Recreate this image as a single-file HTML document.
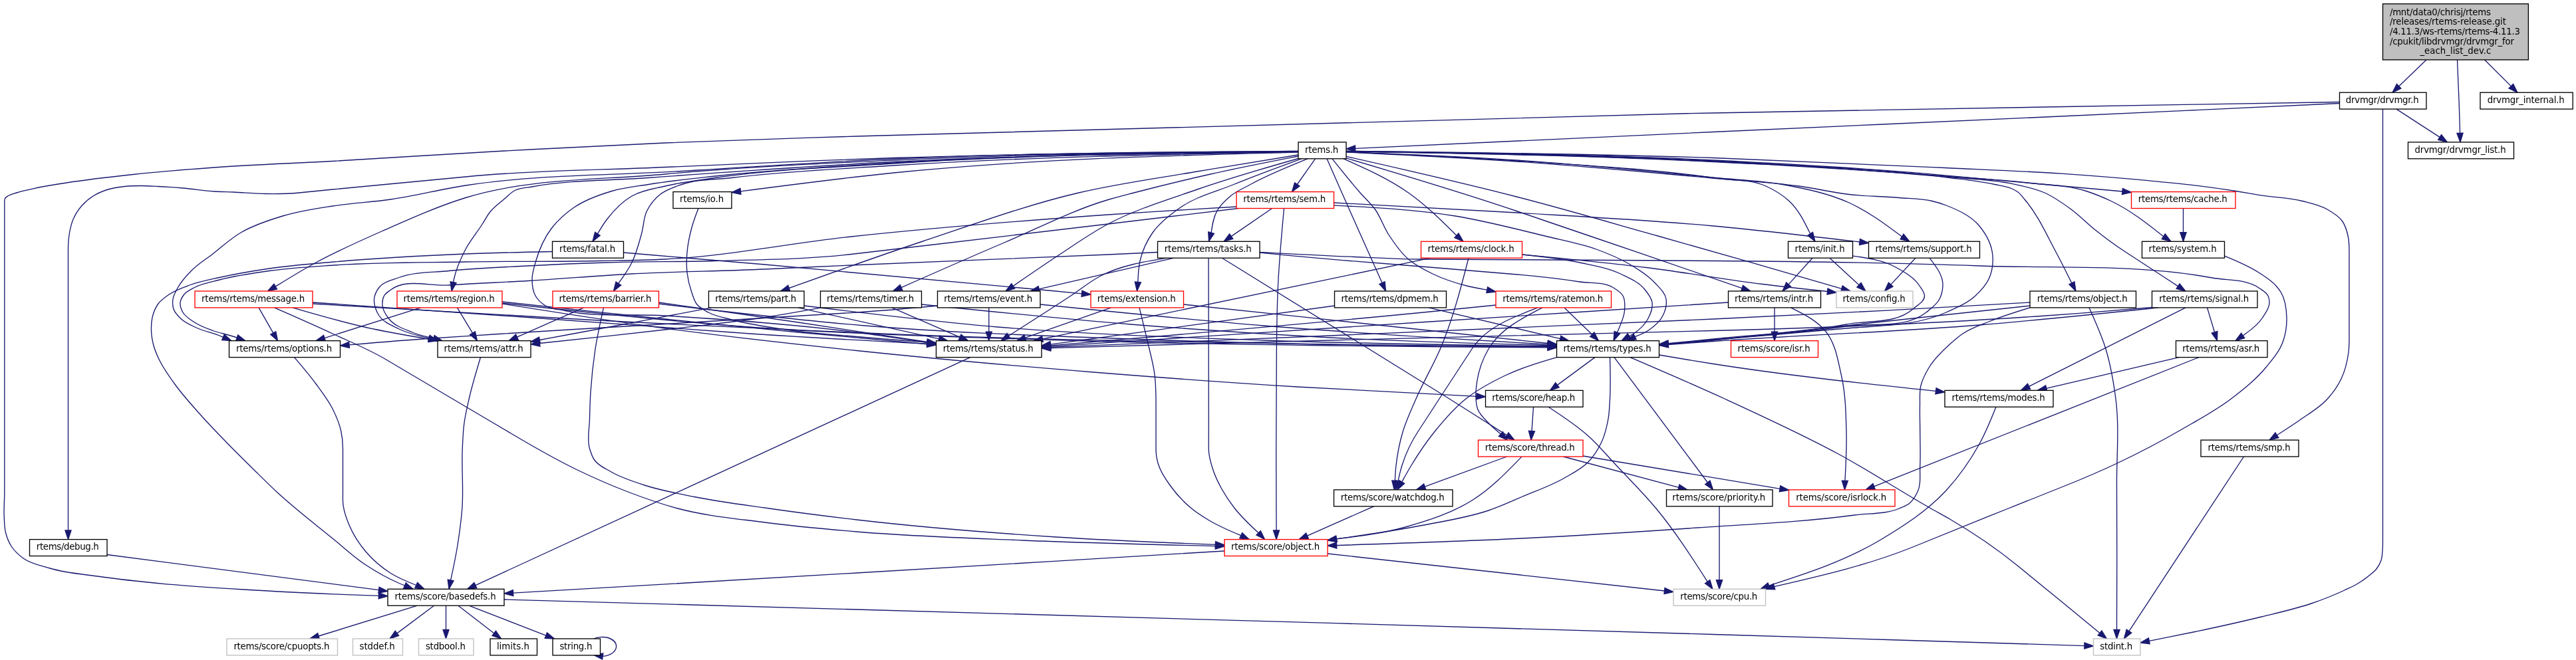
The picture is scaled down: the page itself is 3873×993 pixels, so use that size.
<!DOCTYPE html>
<html><head><meta charset="utf-8"><title>Include dependency graph</title>
<style>html,body{margin:0;padding:0;background:#fff}svg{display:block}text{font-family:"DejaVu Sans","Liberation Sans",sans-serif;font-size:13.33px;fill:#000}</style></head><body>
<svg width="3873" height="993" viewBox="0 0 3873 993">
<rect x="0" y="0" width="3873" height="993" fill="#ffffff"/>
<g fill="none" stroke="#191970" stroke-width="1.33">
<path d="M3648.0,90.0L3606.8,129.7"/>
<path d="M3694.5,90.0C3695.4,110.0 3696.3,130.0 3697.0,150.0C3697.6,166.8 3698.1,183.5 3698.6,200.3"/>
<path d="M3735.6,90.0L3775.4,129.6"/>
<path d="M3517.5,155.5C3370.3,162.4 3223.2,169.3 3076.0,176.0C2909.3,183.6 2742.7,190.9 2576.0,198.5C2396.5,206.7 2217.1,215.0 2037.6,223.4"/>
<path d="M3517.5,153.5C3370.3,156.0 3223.2,158.4 3076.0,161.0C2909.3,163.9 2742.7,167.0 2576.0,170.0C2146.6,177.7 1717.3,190.7 1288.0,205.0C1192.0,208.2 1096.0,210.9 1000.0,215.0C916.6,218.6 833.3,222.9 750.0,227.5C666.6,232.1 583.4,237.8 500.0,242.5C440.7,245.8 381.3,247.7 322.0,252.0C281.3,255.0 240.6,258.1 200.0,262.5C166.6,266.1 133.2,269.8 100.0,275.0C83.3,277.6 66.5,280.0 50.0,283.8C41.6,285.6 33.2,287.4 25.0,290.0C20.8,291.4 16.2,292.0 12.5,294.5C10.7,295.7 8.4,296.8 7.5,298.8C6.9,300.0 6.8,301.6 6.8,303.0C6.8,315.3 6.8,327.7 6.8,340.0C6.8,426.7 6.8,513.3 6.8,600.0C6.8,646.7 6.8,693.3 6.8,740.0C6.8,752.5 5.6,765.0 6.2,777.5C6.7,785.9 6.5,794.4 8.8,802.5C10.7,809.5 13.5,816.4 17.5,822.5C22.1,829.4 28.3,835.1 35.0,840.0C46.5,848.4 61.4,850.9 75.0,855.0C99.3,862.2 124.9,863.9 150.0,867.5C183.2,872.3 216.6,875.6 250.0,878.8C291.6,882.6 333.3,885.0 375.0,887.5C416.6,890.0 458.3,892.0 500.0,893.8C523.1,894.7 546.3,895.5 569.4,896.3"/>
<path d="M3603.0,164.1L3668.1,206.4"/>
<path d="M3582.5,164.1C3582.5,276.0 3582.5,388.0 3582.5,500.0C3582.5,593.3 3582.5,686.7 3582.5,780.0C3582.5,791.7 3582.5,803.3 3582.5,815.0C3582.5,820.0 3582.5,825.0 3582.0,830.0C3581.6,834.4 3581.4,838.8 3580.0,843.0C3578.5,847.7 3576.0,852.1 3573.0,856.0C3570.1,859.7 3566.1,862.5 3562.5,865.5C3557.0,870.1 3551.1,874.3 3545.0,878.0C3538.6,881.9 3531.7,884.8 3525.0,888.0C3508.8,895.6 3492.0,902.2 3475.0,908.0C3450.5,916.4 3425.1,921.8 3400.0,928.0C3366.8,936.2 3333.4,943.5 3300.0,950.5C3277.2,955.3 3254.2,959.8 3231.3,964.3"/>
<path d="M1952.0,227.3C1749.3,229.2 1546.6,231.0 1344.0,237.5C1229.3,241.2 1114.6,246.4 1000.0,251.5C900.0,256.0 799.7,256.5 700.0,266.0C633.3,272.3 566.6,278.4 500.0,285.0C483.3,286.7 466.7,288.3 450.0,290.0C433.4,291.7 416.7,291.7 400.0,291.5C383.3,291.3 366.7,289.7 350.0,289.0C340.7,288.6 331.3,288.6 322.0,288.0C306.3,287.0 290.7,284.3 275.0,283.0C262.5,281.9 250.0,281.1 237.5,280.5C229.2,280.1 220.8,279.5 212.5,279.5C204.2,279.5 195.8,279.6 187.5,280.5C179.1,281.4 170.6,282.5 162.5,285.0C154.7,287.4 146.9,290.6 140.0,295.0C133.5,299.1 127.5,304.2 122.5,310.0C117.4,316.0 113.1,322.8 110.0,330.0C107.3,336.4 105.8,343.2 104.5,350.0C103.2,357.2 102.5,364.6 102.5,372.0C102.5,381.3 102.5,390.7 102.5,400.0C102.5,466.7 102.5,533.3 102.5,600.0C102.5,666.0 102.5,732.0 102.5,798.0"/>
<path d="M1952.0,227.5C1749.3,228.7 1546.5,230.0 1344.0,239.0C1237.6,243.7 1131.3,250.9 1025.0,257.5C916.6,264.2 807.3,262.4 700.0,279.0C662.3,284.8 625.2,294.5 587.5,300.0C558.4,304.2 529.0,305.4 500.0,310.0C474.8,314.0 449.4,317.6 425.0,325.0C403.4,331.5 381.5,338.5 362.0,350.0C346.8,358.9 333.9,371.2 320.0,382.0C309.1,390.4 297.1,397.7 287.5,407.5C280.0,415.1 272.7,423.2 267.5,432.5C264.4,438.1 260.9,443.7 260.0,450.0C259.3,455.0 259.4,460.3 261.0,465.0C263.0,471.0 267.9,475.7 272.5,480.0C279.5,486.6 288.8,490.0 297.5,494.0C307.9,498.7 319.4,500.6 330.0,505.0C331.8,505.8 333.7,506.6 335.5,507.4"/>
<path d="M1952.0,227.7C1749.2,229.6 1546.5,231.5 1344.0,241.0C1229.2,246.4 1114.4,251.5 1000.0,262.0C899.7,271.2 796.2,267.8 700.0,297.5C657.1,310.8 616.1,329.4 575.0,347.5C541.2,362.4 507.4,377.3 475.0,395.0C454.3,406.3 434.3,418.7 414.2,431.1"/>
<path d="M1952.0,227.9C1749.2,230.6 1546.5,233.3 1344.0,243.5C1220.9,249.7 1097.9,258.5 975.0,267.5C916.6,271.8 857.5,270.4 800.0,281.0C791.6,282.5 782.6,282.3 775.0,286.0C768.3,289.3 763.2,295.2 757.5,300.0C750.6,305.8 743.2,311.1 737.5,318.0C732.6,323.9 729.2,331.0 725.0,337.5C716.8,350.1 707.0,361.7 700.0,375.0C692.5,389.3 685.8,404.3 682.5,420.0C682.2,421.5 681.9,423.1 681.6,424.7"/>
<path d="M1952.0,228.1C1749.2,230.5 1546.4,232.9 1344.0,245.0C1254.2,250.4 1164.4,255.1 1075.0,265.0C1041.6,268.7 1008.2,272.1 975.0,277.5C956.6,280.5 937.9,282.2 920.0,287.5C900.0,293.4 879.7,300.6 862.5,312.5C850.4,320.9 839.1,330.9 830.0,342.5C818.1,357.8 810.2,376.3 805.0,395.0C802.7,403.2 800.0,411.5 800.0,420.0C800.0,428.5 800.8,437.6 805.0,445.0C808.5,451.1 814.0,456.2 820.0,460.0C828.7,465.5 839.9,465.3 850.0,467.5C898.9,478.0 950.0,471.9 1000.0,475.0C1096.2,481.0 1192.4,487.6 1288.0,500.0C1323.4,504.6 1358.7,510.1 1394.0,515.5"/>
<path d="M1952.0,228.3C1749.2,230.6 1546.3,233.0 1344.0,246.0C1254.2,251.8 1164.0,254.4 1075.0,267.5C1049.9,271.2 1024.6,274.0 1000.0,280.0C983.1,284.1 965.1,286.3 950.0,295.0C935.2,303.5 922.9,316.5 912.5,330.0C907.2,336.9 902.8,344.4 898.4,351.9"/>
<path d="M1952.0,228.5C1749.2,232.3 1546.4,236.1 1344.0,249.0C1262.6,254.2 1181.0,257.8 1100.0,267.5C1075.0,270.5 1048.8,269.2 1025.0,277.5C1013.7,281.4 1001.8,285.0 992.5,292.5C984.2,299.2 977.2,307.9 972.5,317.5C967.6,327.5 967.9,339.3 965.0,350.0C960.8,365.3 957.0,380.8 950.0,395.0C944.5,406.2 937.1,416.4 929.8,426.5"/>
<path d="M1952.0,229.0C1748.9,234.3 1545.9,239.5 1344.0,260.0C1267.0,267.8 1190.3,277.8 1113.5,287.9"/>
<path d="M1952.0,233.0C1901.3,241.2 1850.6,249.3 1800.0,258.0C1740.6,268.2 1680.7,276.2 1622.0,290.0C1542.3,308.7 1465.2,337.2 1387.5,363.0C1320.1,385.4 1253.2,409.5 1186.3,433.5"/>
<path d="M1952.0,235.0C1907.9,243.6 1863.8,252.1 1820.0,262.0C1781.5,270.7 1743.2,280.0 1705.0,290.0C1692.0,293.4 1678.9,296.7 1666.0,300.5C1612.0,316.5 1561.8,343.0 1510.0,365.0C1458.1,387.0 1406.6,409.8 1355.1,432.6"/>
<path d="M1952.0,238.5C1901.0,253.0 1850.0,267.6 1800.0,285.0C1754.8,300.8 1708.3,314.5 1666.0,337.0C1639.5,351.1 1615.0,368.6 1590.0,385.0C1567.5,399.8 1545.4,415.1 1523.2,430.4"/>
<path d="M1956.7,238.8C1922.6,251.3 1888.6,263.8 1855.0,277.5C1828.1,288.5 1798.9,295.4 1775.0,312.0C1759.5,322.8 1743.8,334.5 1733.0,350.0C1724.1,362.7 1717.5,377.4 1714.0,392.5C1711.6,402.9 1711.2,413.7 1710.8,424.5"/>
<path d="M1966.0,238.8C1936.8,250.6 1907.6,262.4 1880.0,277.5C1869.8,283.0 1858.9,287.6 1850.0,295.0C1842.4,301.3 1834.9,308.4 1830.0,317.0C1824.3,326.9 1822.7,338.6 1821.0,350.2"/>
<path d="M1977.5,238.8L1950.3,277.5"/>
<path d="M1995.0,238.8C2002.5,255.8 2010.0,272.9 2017.5,290.0C2037.5,335.3 2057.7,380.4 2078.0,425.6"/>
<path d="M2003.0,238.8C2016.7,256.1 2030.5,273.4 2045.0,290.0C2052.4,298.4 2060.9,305.9 2067.5,315.0C2075.8,326.5 2079.8,340.6 2087.5,352.5C2096.2,365.9 2105.4,379.6 2117.5,390.0C2128.6,399.5 2141.9,406.2 2155.0,412.5C2170.9,420.2 2187.9,425.6 2205.0,430.0C2215.1,432.6 2225.4,434.4 2235.7,436.3"/>
<path d="M2020.0,238.8C2053.7,253.8 2087.5,268.9 2117.5,290.0C2143.9,308.6 2166.9,331.4 2189.8,354.3"/>
<path d="M2024.0,235.3C2109.6,254.7 2195.1,274.0 2280.0,296.0C2351.2,314.4 2421.7,335.1 2492.5,355.0C2584.8,381.0 2676.8,407.6 2768.9,434.3"/>
<path d="M2024.0,237.9C2109.7,263.3 2195.4,288.7 2280.0,317.5C2316.7,330.0 2353.3,342.5 2390.0,355.0C2466.4,381.1 2542.8,407.3 2619.1,433.6"/>
<path d="M2024.0,227.4C2208.1,229.6 2392.2,231.9 2576.0,241.0C2692.1,246.8 2808.2,253.1 2924.0,263.8C2974.0,268.3 3024.0,273.0 3074.0,277.5C3113.0,281.0 3152.0,284.5 3191.0,288.0"/>
<path d="M2024.0,227.6C2208.1,230.2 2392.2,232.7 2576.0,242.0C2692.1,247.9 2808.1,256.2 2924.0,265.0C2965.7,268.2 3007.5,270.2 3049.0,275.0C3078.3,278.4 3108.4,278.6 3136.5,287.5C3149.3,291.6 3161.8,296.7 3174.0,302.5C3202.6,316.1 3227.7,335.9 3252.7,355.7"/>
<path d="M2024.0,227.8C2208.1,230.7 2392.2,233.5 2576.0,243.0C2692.1,249.0 2808.2,255.5 2924.0,266.2C2957.4,269.3 2991.2,269.2 3024.0,276.2C3040.9,279.9 3058.2,282.9 3074.0,290.0C3088.4,296.4 3101.3,305.7 3114.0,315.0C3126.4,324.1 3137.0,335.4 3149.0,345.0C3163.5,356.6 3178.4,367.8 3194.0,378.0C3209.3,388.0 3224.7,398.0 3240.0,408.0C3251.5,415.5 3263.1,423.1 3274.6,430.6"/>
<path d="M2024.0,228.0C2208.1,231.0 2392.2,234.1 2576.0,243.5C2692.1,249.5 2808.7,251.3 2924.0,266.5C2949.0,269.8 2974.3,272.0 2999.0,277.5C3007.7,279.4 3016.9,280.2 3025.0,284.0C3028.1,285.4 3031.2,286.9 3034.0,289.0C3038.0,292.0 3040.8,296.2 3044.0,300.0C3064.2,323.5 3076.8,352.7 3091.5,380.0C3099.6,395.1 3107.2,410.5 3114.8,425.9"/>
<path d="M2024.0,227.2C2208.0,229.3 2392.1,231.3 2576.0,237.5C2692.0,241.4 2808.0,247.0 2924.0,252.5C2982.3,255.3 3040.7,257.3 3099.0,261.2C3140.7,264.1 3182.4,267.4 3224.0,271.2C3249.0,273.6 3274.1,275.7 3299.0,278.8C3319.9,281.3 3340.7,284.2 3361.5,287.5C3374.0,289.5 3386.5,291.8 3399.0,293.8C3419.8,297.0 3441.1,297.3 3461.5,302.5C3474.3,305.8 3487.6,308.5 3499.0,315.0C3507.2,319.7 3516.0,324.8 3521.5,332.5C3526.2,339.1 3528.5,347.2 3530.2,355.0C3532.1,363.1 3532.0,371.6 3532.0,380.0C3532.0,406.7 3532.0,433.3 3532.0,460.0C3532.0,473.3 3532.0,486.7 3532.0,500.0C3532.0,510.0 3532.3,520.1 3531.0,530.0C3529.2,543.7 3526.0,557.5 3520.0,570.0C3514.8,580.9 3507.6,591.0 3499.5,600.0C3487.6,613.3 3471.6,622.2 3457.0,632.5C3446.0,640.2 3434.7,647.4 3423.4,654.7"/>
<path d="M2024.0,228.5C2109.4,231.9 2194.8,235.3 2280.0,241.0C2380.2,247.7 2480.1,257.8 2580.0,267.5C2613.3,270.7 2647.1,271.4 2680.0,277.5C2714.0,283.8 2748.5,290.7 2780.0,305.0C2808.7,318.0 2834.1,337.0 2859.5,356.0"/>
<path d="M2024.0,228.7C2109.4,232.5 2194.7,236.2 2280.0,242.0C2380.1,248.8 2480.7,253.6 2580.0,268.0C2605.1,271.6 2631.9,269.5 2655.0,280.0C2667.6,285.7 2679.8,293.1 2690.0,302.5C2704.3,315.8 2713.0,333.8 2721.7,351.8"/>
<path d="M2024.0,228.9C2109.4,233.0 2194.7,237.1 2280.0,243.0C2380.1,249.9 2480.0,259.5 2580.0,268.5C2621.7,272.2 2663.6,274.3 2705.0,280.0C2730.1,283.5 2754.8,289.6 2780.0,292.5C2804.9,295.4 2830.0,295.3 2855.0,297.5C2871.7,298.9 2888.7,298.5 2905.0,302.5C2912.1,304.2 2919.2,306.4 2926.0,309.0C2944.3,316.1 2963.5,324.9 2976.0,340.0C2986.4,352.7 2994.8,368.6 2996.0,385.0C2996.9,396.8 2995.0,409.3 2990.0,420.0C2985.5,429.7 2977.8,437.7 2970.0,445.0C2957.7,456.5 2941.3,463.0 2926.0,470.0C2879.9,491.0 2826.4,489.6 2776.0,494.0C2709.3,499.8 2642.7,505.7 2576.0,511.5C2553.4,513.5 2530.7,515.4 2508.1,517.3"/>
<path d="M1912.5,313.5L1851.2,355.6"/>
<path d="M1930.5,313.5C1927.2,349.0 1924.0,384.4 1922.0,420.0C1918.6,479.9 1919.5,540.0 1919.0,600.0C1918.4,666.0 1918.7,732.0 1919.0,798.0"/>
<path d="M1859.0,311.0C1794.7,314.8 1730.3,318.5 1666.0,323.0C1537.2,332.0 1408.4,342.4 1280.0,356.0C1186.5,365.9 1093.9,385.3 1000.0,390.0C966.7,391.7 933.3,391.9 900.0,392.5C833.3,393.8 766.7,392.9 700.0,394.0C634.0,395.1 567.9,394.6 502.0,399.0C469.6,401.2 437.1,403.0 405.0,407.5C379.8,411.0 354.6,414.5 330.0,421.0C317.4,424.3 304.0,426.2 292.5,432.5C286.6,435.7 279.9,438.6 276.0,444.0C273.6,447.3 271.5,451.0 271.0,455.0C270.3,460.1 272.5,465.5 275.0,470.0C278.7,476.7 286.1,480.7 292.5,485.0C300.9,490.6 310.6,494.0 320.0,497.5C329.8,501.1 340.2,502.6 350.0,506.0C352.1,506.7 354.1,507.4 356.2,508.2"/>
<path d="M1862.0,313.5C1796.7,321.3 1731.3,329.2 1666.0,337.0C1580.0,347.3 1494.0,357.4 1408.0,367.5C1365.3,372.5 1322.7,377.5 1280.0,382.5C1212.1,390.5 1143.4,390.4 1075.0,392.5C1020.9,394.1 966.6,393.3 912.5,395.0C873.0,396.2 833.5,397.9 794.0,400.0C754.3,402.1 714.5,403.3 675.0,407.5C649.9,410.2 623.6,408.6 600.0,417.5C589.5,421.5 576.8,423.6 570.0,432.5C566.1,437.5 563.1,443.7 562.5,450.0C562.1,455.0 563.3,460.2 565.0,465.0C566.2,468.5 567.9,471.9 570.0,475.0C576.6,485.0 589.2,489.6 600.0,495.0C614.0,502.0 629.5,505.4 645.0,508.7"/>
<path d="M2005.5,305.0C2097.0,309.7 2188.5,314.4 2280.0,320.0C2378.7,326.0 2477.5,331.0 2576.0,340.0C2649.5,346.7 2722.7,355.4 2796.0,364.0"/>
<path d="M2005.5,309.0C2066.6,312.1 2127.7,315.1 2188.0,325.0C2233.3,332.4 2277.9,344.1 2322.5,355.0C2348.4,361.4 2375.0,365.8 2400.0,375.0C2417.1,381.3 2434.3,388.2 2450.0,397.5C2463.3,405.4 2477.0,413.6 2487.5,425.0C2494.4,432.5 2503.3,440.0 2505.0,450.0C2506.4,458.4 2503.8,467.4 2500.0,475.0C2495.7,483.7 2487.9,490.4 2480.0,496.0C2473.4,500.7 2465.8,503.7 2458.2,506.7"/>
<path d="M1050.0,313.5C1046.3,323.1 1042.7,332.6 1040.0,342.5C1036.7,354.8 1034.0,367.3 1033.0,380.0C1032.2,390.0 1031.9,400.1 1033.0,410.0C1034.2,420.2 1036.6,430.3 1040.0,440.0C1042.1,446.0 1043.6,452.5 1047.5,457.5C1051.9,463.2 1058.7,466.5 1065.0,470.0C1075.7,475.9 1088.2,477.8 1100.0,481.0C1124.5,487.7 1149.9,491.1 1175.0,495.0C1216.4,501.4 1258.3,503.8 1300.0,507.5C1331.3,510.3 1362.6,512.6 1393.9,514.9"/>
<path d="M3282.5,313.5L3282.5,349.7"/>
<path d="M830.5,378.5C787.0,379.4 743.5,380.3 700.0,382.0C633.9,384.7 567.9,388.1 502.0,394.0C469.6,396.9 437.2,399.3 405.0,404.0C379.9,407.7 354.8,411.9 330.0,417.5C314.9,420.9 299.5,423.7 285.0,429.0C274.7,432.8 264.1,436.4 255.0,442.5C248.6,446.8 242.0,451.3 237.5,457.5C233.3,463.4 230.7,470.4 229.0,477.5C227.5,484.0 227.3,490.8 227.5,497.5C227.7,505.1 229.0,512.7 231.0,520.0C232.9,526.9 235.7,533.5 238.8,540.0C245.0,553.4 253.9,565.5 262.5,577.5C273.9,593.4 287.1,607.9 300.0,622.5C312.9,637.1 326.5,651.0 340.0,665.0C353.1,678.5 366.6,691.8 380.0,705.0C391.9,716.7 403.7,728.6 416.0,740.0C442.7,764.8 471.7,787.0 500.0,810.0C516.6,823.5 532.2,838.2 550.0,850.0C565.9,860.5 582.6,869.9 600.0,877.5C602.8,878.7 605.6,879.9 608.5,881.0"/>
<path d="M937.5,380.0C966.7,382.5 995.8,385.0 1025.0,387.5C1066.7,391.0 1108.3,394.5 1150.0,398.0C1308.9,411.3 1467.7,426.6 1626.5,441.8"/>
<path d="M1765.0,388.2L1562.3,434.9"/>
<path d="M1755.0,388.2C1720.3,393.7 1685.7,399.2 1655.0,415.0C1639.0,423.3 1625.0,435.1 1610.0,445.0C1579.0,465.4 1547.7,485.4 1516.4,505.3"/>
<path d="M1740.5,379.5C1715.7,380.7 1690.8,381.9 1666.0,383.0C1537.4,388.9 1408.6,393.2 1280.0,399.0C1236.7,400.9 1193.3,403.0 1150.0,405.0C1083.4,408.1 1016.6,408.5 950.0,412.0C898.0,414.8 846.0,419.4 794.0,422.5C754.3,424.9 714.6,426.3 675.0,429.0C645.8,431.0 610.8,418.3 587.5,436.0C583.9,438.7 579.7,441.1 577.5,445.0C575.0,449.4 574.6,455.0 575.0,460.0C575.7,467.4 580.4,474.2 585.0,480.0C593.4,490.5 607.5,494.9 620.0,500.0C630.2,504.2 641.1,506.6 651.9,509.0"/>
<path d="M1817.0,388.2C1817.1,458.8 1817.2,529.4 1817.2,600.0C1817.3,625.0 1817.2,650.0 1817.2,675.0C1817.2,686.1 1820.5,697.0 1824.0,707.5C1827.2,717.1 1831.7,726.2 1836.5,735.0C1842.3,745.5 1849.1,755.5 1856.5,765.0C1867.0,778.4 1879.5,790.1 1892.1,801.8"/>
<path d="M1837.5,388.2C1951.6,458.3 2065.7,528.5 2179.0,600.0C2207.9,618.2 2236.7,636.5 2265.5,654.9"/>
<path d="M1894.0,379.5C1939.3,381.9 1984.7,384.4 2030.0,386.2C2065.0,387.7 2100.0,389.8 2135.0,390.0C2231.3,390.5 2327.7,390.9 2424.0,391.5C2474.7,391.8 2525.3,392.2 2576.0,392.5C2709.4,393.4 2842.7,395.2 2976.0,400.0C3092.7,404.2 3211.2,396.6 3326.0,418.0C3349.5,422.4 3376.4,419.4 3396.0,433.0C3401.0,436.5 3407.4,439.4 3410.0,445.0C3411.2,447.5 3411.7,450.3 3412.0,453.0C3412.9,461.8 3406.7,470.0 3402.0,477.5C3395.4,488.0 3385.1,495.8 3375.0,503.0C3374.1,503.7 3373.1,504.3 3372.2,505.0"/>
<path d="M1894.0,380.0C1939.3,384.4 1984.6,388.9 2030.0,392.5C2071.7,395.8 2113.3,399.1 2155.0,402.5C2195.0,405.8 2235.0,409.2 2275.0,412.5C2308.4,415.3 2341.8,419.0 2375.0,424.0C2391.7,426.5 2410.6,423.7 2425.0,432.5C2430.5,435.9 2436.7,439.4 2440.0,445.0C2443.8,451.5 2443.1,460.0 2442.5,467.5C2441.8,476.0 2438.2,484.1 2435.0,492.0C2433.9,494.8 2432.7,497.5 2431.4,500.2"/>
<path d="M2151.0,388.2L1567.5,509.9"/>
<path d="M2208.0,388.2C2196.5,432.8 2185.0,477.5 2167.5,520.0C2156.3,547.4 2140.7,572.8 2129.0,600.0C2121.9,616.5 2114.1,632.8 2109.0,650.0C2104.2,666.3 2100.9,683.1 2099.0,700.0C2098.1,707.7 2097.7,715.5 2097.3,723.3"/>
<path d="M2288.5,383.0C2317.5,385.9 2346.6,388.8 2375.0,395.0C2396.1,399.6 2418.1,403.0 2437.5,412.5C2450.0,418.6 2463.7,424.3 2472.5,435.0C2477.4,440.9 2482.8,447.4 2484.0,455.0C2485.3,463.5 2481.6,472.4 2477.5,480.0C2472.9,488.5 2465.4,495.5 2457.5,501.0C2455.0,502.7 2452.3,504.2 2449.7,505.7"/>
<path d="M2288.5,383.0C2350.7,388.9 2413.0,394.8 2475.0,402.5C2533.5,409.8 2591.5,420.3 2650.0,427.5C2682.5,431.5 2715.0,435.0 2747.5,438.5"/>
<path d="M2725.0,388.2L2689.1,427.9"/>
<path d="M2751.0,388.2L2795.0,428.8"/>
<path d="M2785.5,385.0C2808.4,388.3 2831.2,391.5 2851.0,402.5C2864.0,409.7 2877.8,417.6 2886.0,430.0C2889.1,434.7 2893.4,439.4 2893.5,445.0C2893.7,453.9 2882.6,459.1 2876.0,465.0C2850.4,487.7 2809.6,481.6 2776.0,488.0C2710.1,500.5 2642.7,503.2 2576.0,510.0C2553.4,512.3 2530.7,514.5 2508.0,516.7"/>
<path d="M2880.0,388.2L2842.8,428.1"/>
<path d="M2901.0,388.2C2911.3,401.4 2921.6,414.6 2921.0,430.0C2920.7,436.9 2919.1,443.9 2916.0,450.0C2911.7,458.4 2903.4,464.1 2896.0,470.0C2864.3,495.3 2816.2,485.1 2776.0,491.0C2709.7,500.7 2642.7,504.8 2576.0,511.0C2553.4,513.1 2530.7,515.1 2508.0,517.1"/>
<path d="M3344.5,385.0C3362.3,392.3 3380.1,399.5 3396.0,410.0C3405.1,416.0 3414.8,421.8 3422.0,430.0C3424.7,433.1 3427.4,436.4 3429.5,440.0C3436.1,451.0 3437.6,464.7 3438.0,477.5C3438.4,490.2 3436.4,503.1 3432.0,515.0C3426.8,529.1 3416.5,540.9 3407.0,552.5C3392.1,570.8 3373.2,585.6 3354.5,600.0C3331.9,617.3 3306.6,630.8 3282.0,645.0C3249.4,663.9 3216.1,681.5 3182.0,697.5C3157.4,709.1 3132.3,719.9 3107.0,730.0C3077.8,741.7 3048.7,753.3 3019.5,765.0C2971.6,784.2 2923.8,803.7 2876.0,823.0C2809.0,850.1 2738.3,866.3 2667.6,882.6"/>
<path d="M389.0,462.9L410.7,500.9"/>
<path d="M412.5,462.9C441.8,475.7 471.0,488.5 500.0,502.0C526.4,514.3 553.7,525.2 578.8,540.0C612.6,560.0 646.4,580.0 680.2,600.0C709.8,617.5 739.4,635.0 769.0,652.5C801.7,671.9 834.7,691.0 869.0,707.5C893.6,719.3 918.5,730.3 944.0,740.0C968.6,749.4 993.5,758.2 1019.0,765.0C1061.7,776.4 1106.2,780.2 1150.0,786.0C1195.8,792.0 1241.9,796.1 1288.0,800.0C1371.2,807.0 1454.6,809.5 1538.0,813.0C1634.4,817.0 1730.9,819.3 1827.4,821.6"/>
<path d="M440.0,462.9C476.5,473.5 513.0,484.2 550.0,492.5C581.3,499.5 613.0,504.9 644.6,510.2"/>
<path d="M632.5,462.9L488.0,508.6"/>
<path d="M687.5,462.9L710.5,501.1"/>
<path d="M755.0,457.0C836.6,470.0 918.1,483.0 1000.0,494.0C1095.8,506.9 1191.9,517.4 1288.0,527.5C1406.5,540.0 1525.2,550.4 1644.0,560.0C1745.9,568.2 1847.9,575.7 1950.0,582.0C2039.9,587.6 2129.9,591.9 2219.9,596.3"/>
<path d="M877.5,462.9L777.4,507.2"/>
<path d="M907.5,462.9C902.9,483.5 898.2,504.1 895.0,525.0C891.7,546.5 889.4,568.3 888.0,590.0C887.1,603.3 886.8,616.7 886.5,630.0C886.2,645.0 882.3,660.6 886.5,675.0C888.3,681.1 890.3,687.3 894.0,692.5C899.9,700.8 910.2,704.9 919.0,710.0C934.5,719.0 952.0,724.4 969.0,730.0C993.4,738.0 1018.8,742.4 1044.0,747.5C1081.2,755.0 1118.9,759.6 1156.5,765.0C1200.3,771.3 1244.1,776.9 1288.0,782.0C1387.7,793.6 1487.8,801.5 1588.0,808.0C1667.7,813.2 1747.6,816.3 1827.4,819.4"/>
<path d="M1070.0,462.9C1013.3,473.6 956.7,484.4 900.0,495.0C870.5,500.5 840.9,506.0 811.4,511.5"/>
<path d="M1200.0,462.9L1411.7,509.8"/>
<path d="M1235.0,462.9C1206.7,468.0 1178.4,473.1 1150.0,477.5C1100.2,485.2 1050.0,490.1 1000.0,496.0C937.2,503.3 874.4,509.9 811.5,516.5"/>
<path d="M1341.0,462.9L1443.2,507.3"/>
<path d="M1409.5,460.0C1369.0,463.8 1328.6,467.5 1288.0,470.0C1192.0,475.8 1096.0,481.7 1000.0,487.5C916.7,492.5 833.3,497.2 750.0,502.5C716.7,504.6 683.3,506.8 650.0,509.0C608.3,511.7 566.7,515.3 525.1,518.9"/>
<path d="M1486.8,462.9L1486.8,499.1"/>
<path d="M1713.0,462.9C1716.0,475.3 1719.0,487.6 1722.0,500.0C1724.4,510.0 1726.8,520.0 1729.2,530.0C1731.6,539.9 1734.0,549.9 1735.5,560.0C1737.7,574.9 1738.0,590.0 1738.0,605.0C1738.0,616.7 1738.0,628.3 1738.0,640.0C1738.0,652.7 1738.0,665.3 1738.0,678.0C1738.0,683.7 1739.0,689.5 1740.5,695.0C1741.4,698.4 1742.7,701.7 1744.0,705.0C1747.7,714.0 1753.4,722.1 1759.0,730.0C1768.2,743.0 1779.2,754.9 1791.5,765.0C1799.8,771.8 1808.8,777.5 1818.0,783.0C1833.1,792.0 1849.4,798.9 1865.7,805.7"/>
<path d="M1670.5,462.9L1541.4,508.2"/>
<path d="M2006.5,460.0L1579.5,518.2"/>
<path d="M2148.0,462.9L2345.8,509.6"/>
<path d="M2249.0,459.0C2216.0,462.4 2183.0,465.7 2150.0,469.0C1960.0,487.9 1769.8,503.8 1579.5,519.8"/>
<path d="M2352.0,462.9L2393.7,503.3"/>
<path d="M2319.0,462.9C2287.1,479.3 2255.3,495.7 2238.0,525.0C2229.0,540.2 2223.1,557.5 2220.5,575.0C2219.3,583.3 2218.3,591.7 2219.0,600.0C2219.4,605.1 2219.8,610.2 2221.5,615.0C2224.6,624.0 2232.5,630.6 2239.0,637.5C2244.4,643.1 2250.4,648.1 2256.4,653.1"/>
<path d="M2312.0,462.9C2273.2,477.6 2234.3,492.4 2213.0,525.0C2196.7,550.0 2180.3,575.0 2164.0,600.0C2153.2,616.7 2142.3,633.3 2131.5,650.0C2121.5,665.4 2113.6,682.4 2108.0,700.0C2105.5,707.8 2103.7,715.7 2102.0,723.7"/>
<path d="M2598.5,455.0C2449.0,464.7 2299.5,474.3 2150.0,484.0C1959.9,496.3 1769.7,508.7 1579.6,521.1"/>
<path d="M2668.0,462.9L2668.0,499.1"/>
<path d="M2692.5,462.9C2712.6,472.9 2732.7,482.8 2746.0,500.0C2760.0,518.1 2763.4,542.6 2768.5,565.0C2774.8,592.7 2775.3,621.6 2776.0,650.0C2776.6,674.4 2775.3,698.8 2773.9,723.3"/>
<path d="M3052.0,462.9C3031.1,469.3 3010.2,475.7 2990.0,484.0C2976.8,489.5 2962.9,494.0 2951.0,502.0C2944.2,506.6 2938.1,512.0 2932.0,517.5C2920.4,528.0 2908.7,539.1 2900.5,552.5C2895.3,561.1 2890.4,570.2 2888.0,580.0C2885.6,589.7 2886.8,600.0 2886.5,610.0C2886.2,623.3 2886.7,636.7 2886.8,650.0C2886.8,666.7 2887.6,683.4 2886.8,700.0C2886.1,713.4 2888.7,727.9 2883.0,740.0C2880.0,746.5 2876.1,753.0 2870.5,757.5C2866.1,761.0 2860.6,762.8 2855.5,765.0C2834.6,773.9 2810.5,772.0 2788.0,775.0C2705.1,786.1 2621.4,789.2 2538.0,795.0C2454.7,800.8 2371.4,805.9 2288.0,810.0C2195.2,814.6 2102.4,817.5 2009.6,820.5"/>
<path d="M3141.0,462.9C3150.2,483.3 3159.5,503.7 3166.0,525.0C3173.4,549.4 3177.7,574.7 3181.0,600.0C3186.6,643.0 3182.2,686.7 3182.5,730.0C3183.0,802.5 3182.8,874.9 3182.5,947.4"/>
<path d="M3318.5,462.9L3329.6,499.7"/>
<path d="M3286.0,462.9L3050.6,581.3"/>
<path d="M470.0,455.0C580.0,462.6 690.0,470.1 800.0,478.0C900.0,485.2 1000.0,492.7 1100.0,500.0C1197.9,507.2 1295.9,512.2 1393.9,517.2"/>
<path d="M470.0,457.0C613.3,465.8 756.6,474.6 900.0,482.0C1099.9,492.4 1299.9,501.9 1500.0,508.0C1666.6,513.1 1833.3,515.5 2000.0,518.0C2109.0,519.6 2217.9,520.7 2326.9,521.8"/>
<path d="M755.0,454.0C836.7,462.8 918.3,471.6 1000.0,480.0C1066.6,486.8 1133.3,493.6 1200.0,500.0C1264.6,506.2 1329.3,512.0 1394.0,517.8"/>
<path d="M755.0,456.0C869.9,468.6 984.8,481.2 1100.0,490.0C1266.3,502.7 1433.3,506.9 1600.0,512.0C1733.3,516.1 1866.7,518.2 2000.0,520.0C2109.0,521.5 2217.9,522.2 2326.9,522.9"/>
<path d="M990.5,455.0C1060.4,464.8 1130.2,474.7 1200.0,485.0C1264.7,494.6 1329.4,504.5 1394.1,514.5"/>
<path d="M990.5,457.0C1093.5,469.3 1196.6,481.5 1300.0,490.0C1433.1,500.9 1566.6,505.0 1700.0,510.0C1833.3,515.0 1966.6,518.1 2100.0,520.0C2175.6,521.1 2251.3,521.5 2326.9,521.9"/>
<path d="M1209.0,460.0C1305.9,471.9 1402.8,483.8 1500.0,492.0C1633.0,503.3 1766.6,507.2 1900.0,512.0C2042.2,517.1 2184.6,518.9 2326.9,520.7"/>
<path d="M1385.5,458.0C1490.3,468.8 1595.0,479.5 1700.0,488.0C1799.9,496.1 1899.9,502.8 2000.0,508.0C2108.9,513.6 2217.9,516.6 2326.9,519.5"/>
<path d="M1564.0,458.0C1675.9,469.4 1787.9,480.8 1900.0,490.0C2042.1,501.7 2184.5,509.9 2326.9,518.1"/>
<path d="M1779.5,458.0C1886.3,469.3 1993.2,480.5 2100.0,492.0C2175.7,500.1 2251.3,508.3 2327.0,516.5"/>
<path d="M3052.0,455.0C2893.4,464.1 2734.7,473.1 2576.0,480.0C2384.0,488.3 2192.0,496.9 2000.0,505.0C1859.9,510.9 1719.7,516.7 1579.6,522.4"/>
<path d="M3052.0,460.0C2993.3,466.3 2934.7,472.6 2876.0,479.0C2776.0,489.9 2676.0,501.0 2576.0,512.0C2553.4,514.5 2530.7,516.2 2508.1,517.8"/>
<path d="M3235.5,462.5C3182.3,466.9 3129.2,471.3 3076.0,475.0C2909.6,486.7 2742.8,493.3 2576.0,497.5C2384.0,502.3 2192.0,506.9 2000.0,512.0C1859.9,515.7 1719.7,519.7 1579.6,523.6"/>
<path d="M3245.0,462.9C3155.4,472.2 3065.8,481.6 2976.0,489.0C2842.9,500.0 2709.2,503.9 2576.0,513.5C2553.4,515.1 2530.7,516.8 2508.1,518.5"/>
<path d="M442.5,537.6C453.7,550.6 464.9,563.7 475.0,577.5C483.9,589.6 493.3,601.6 500.0,615.0C505.2,625.4 509.9,636.2 512.5,647.5C514.5,656.5 515.5,665.8 515.5,675.0C515.5,685.0 515.5,695.0 515.5,705.0C515.5,716.7 515.5,728.3 515.5,740.0C515.5,746.7 515.1,753.4 516.0,760.0C517.3,770.4 521.0,780.4 525.0,790.0C531.1,804.5 539.8,818.0 550.0,830.0C560.7,842.6 573.5,853.6 587.5,862.5C599.4,870.0 612.5,875.3 625.7,880.5"/>
<path d="M722.5,537.6C716.3,558.3 710.0,579.0 705.2,600.0C702.4,612.4 699.4,624.9 697.8,637.5C696.1,649.9 695.9,662.5 695.2,675.0C693.8,705.0 697.1,735.1 694.8,765.0C693.3,783.4 690.9,801.8 688.0,820.0C685.2,837.8 681.4,855.4 677.6,872.9"/>
<path d="M1458.8,537.6L714.9,880.6"/>
<path d="M2398.0,537.6L2341.4,579.4"/>
<path d="M2494.5,534.0C2521.6,538.6 2548.8,543.2 2576.0,547.5C2687.0,564.9 2798.7,576.6 2910.5,588.4"/>
<path d="M2340.5,537.6C2314.1,545.4 2287.7,553.2 2263.0,565.0C2242.4,574.9 2221.9,585.7 2204.0,600.0C2186.0,614.3 2170.9,632.1 2156.5,650.0C2143.8,665.8 2132.5,682.7 2122.0,700.0C2117.0,708.2 2112.4,716.6 2107.7,725.0"/>
<path d="M2420.5,537.6C2421.1,558.4 2421.7,579.2 2420.5,600.0C2419.9,610.0 2419.7,620.1 2418.0,630.0C2415.9,642.0 2413.1,654.0 2408.0,665.0C2402.9,675.9 2396.3,686.3 2388.0,695.0C2377.6,705.9 2363.5,712.5 2350.5,720.0C2330.7,731.3 2309.0,738.6 2288.0,747.5C2271.4,754.5 2255.0,762.1 2238.0,768.0C2205.7,779.1 2171.5,783.9 2138.0,790.5C2095.4,798.8 2052.4,804.8 2009.4,810.9"/>
<path d="M2427.0,537.6L2567.4,726.0"/>
<path d="M2451.0,537.6C2498.5,558.0 2546.0,578.4 2593.0,600.0C2650.2,626.3 2707.6,652.6 2763.0,682.5C2810.7,708.2 2855.8,738.3 2903.0,765.0C2912.6,770.5 2922.4,775.6 2932.0,781.2C2966.9,801.7 3000.7,824.4 3032.0,850.0C3054.7,868.5 3077.4,887.0 3100.0,905.5C3119.0,921.1 3138.0,936.7 3157.0,952.4"/>
<path d="M3276.0,537.6L3076.7,584.3"/>
<path d="M3306.0,537.6L2817.6,731.8"/>
<path d="M2305.5,612.3L2303.0,648.6"/>
<path d="M2328.0,612.3C2348.8,625.9 2369.5,639.5 2388.0,656.0C2403.1,669.5 2416.1,685.2 2430.0,700.0C2450.2,721.5 2471.2,742.3 2490.0,765.0C2518.6,799.5 2542.9,837.3 2567.2,875.2"/>
<path d="M3001.0,612.3C2993.4,631.3 2985.8,650.2 2976.0,668.0C2962.1,693.1 2945.4,716.9 2926.0,738.0C2897.7,768.6 2861.8,791.6 2826.0,813.0C2774.6,843.8 2717.1,862.5 2659.6,881.1"/>
<path d="M2265.5,687.0L2142.3,732.2"/>
<path d="M2288.0,687.0C2264.6,711.2 2241.3,735.4 2213.0,753.0C2182.5,772.0 2147.6,783.3 2113.0,793.0C2079.3,802.5 2044.3,806.6 2009.4,810.7"/>
<path d="M2350.5,687.0L2523.9,733.4"/>
<path d="M2380.0,686.0L2676.1,735.3"/>
<path d="M3373.5,687.0L3201.0,949.6"/>
<path d="M2065.5,761.8L1965.4,806.1"/>
<path d="M2585.0,761.8L2585.0,872.7"/>
<path d="M161.0,834.5L569.5,887.7"/>
<path d="M1841.0,829.0C1656.7,840.1 1472.3,851.1 1288.0,862.0C1115.9,872.2 943.7,882.2 771.6,892.2"/>
<path d="M1996.0,833.0L2502.5,889.0"/>
<path d="M627.5,911.2L479.0,957.0"/>
<path d="M652.5,911.2L596.9,952.9"/>
<path d="M670.5,911.2L670.5,947.4"/>
<path d="M689.0,911.2L742.7,952.7"/>
<path d="M705.0,911.2L820.8,956.1"/>
<path d="M758.0,902.0C934.7,907.0 1111.3,912.0 1288.0,917.0C1717.3,929.3 2146.7,941.5 2576.0,954.5C2762.0,960.1 2947.9,965.8 3133.9,971.6"/>
<path d="M892.8,961C898,958.2 908,957.8 914,959.5C922,962 926.6,967 926.6,972.6C926.6,980 918,986.5 906.2,987.4"/>
</g>
<g fill="#191970" stroke="#191970" stroke-width="1.33">
<polygon points="3603.6,126.4 3597.0,139.2 3609.9,133.0"/>
<polygon points="3694.0,200.4 3699.0,213.9 3703.1,200.1"/>
<polygon points="3772.1,132.8 3785.0,139.2 3778.6,126.3"/>
<polygon points="2037.4,218.8 2024.0,224.0 2037.8,227.9"/>
<polygon points="569.2,900.8 583.0,896.8 569.6,891.7"/>
<polygon points="3665.6,210.3 3679.5,213.9 3670.6,202.6"/>
<polygon points="3230.4,959.9 3218.0,967.0 3232.2,968.8"/>
<polygon points="98.0,798.0 102.5,811.6 107.0,798.0"/>
<polygon points="333.7,511.5 348.0,512.7 337.3,503.2"/>
<polygon points="411.9,427.2 402.5,438.0 416.5,435.0"/>
<polygon points="677.1,423.8 679.0,438.0 686.1,425.5"/>
<polygon points="1393.4,520.0 1407.5,517.5 1394.7,511.0"/>
<polygon points="894.6,349.4 891.0,363.3 902.2,354.3"/>
<polygon points="926.0,424.1 922.5,438.0 933.7,429.0"/>
<polygon points="1113.0,283.4 1100.0,289.5 1114.0,292.4"/>
<polygon points="1184.8,429.2 1173.5,438.0 1187.8,437.8"/>
<polygon points="1353.2,428.4 1342.6,438.0 1356.9,436.7"/>
<polygon points="1520.7,426.6 1512.0,438.0 1525.8,434.1"/>
<polygon points="1706.3,424.0 1709.5,438.0 1715.4,424.9"/>
<polygon points="1816.7,349.0 1817.5,363.3 1825.4,351.3"/>
<polygon points="1946.6,274.8 1942.5,288.6 1954.0,280.1"/>
<polygon points="2073.8,427.4 2083.5,438.0 2082.1,423.7"/>
<polygon points="2234.8,440.7 2249.0,439.0 2236.6,431.8"/>
<polygon points="2186.8,357.7 2200.0,363.3 2192.9,350.9"/>
<polygon points="2767.7,438.6 2782.0,438.0 2770.2,429.9"/>
<polygon points="2617.7,437.9 2632.0,438.0 2620.6,429.3"/>
<polygon points="3190.5,292.6 3204.5,289.2 3191.4,283.5"/>
<polygon points="3250.2,359.5 3264.0,363.3 3255.3,351.9"/>
<polygon points="3272.1,434.4 3286.0,438.0 3277.1,426.8"/>
<polygon points="3110.8,427.9 3121.0,438.0 3118.9,423.8"/>
<polygon points="3420.9,650.9 3412.0,662.1 3425.9,658.5"/>
<polygon points="2857.1,359.8 2871.0,363.3 2862.0,352.1"/>
<polygon points="2717.8,354.3 2729.0,363.3 2725.5,349.4"/>
<polygon points="2507.7,512.8 2494.5,518.5 2508.4,521.9"/>
<polygon points="1848.6,351.8 1840.0,363.3 1853.8,359.3"/>
<polygon points="1914.5,798.0 1919.0,811.6 1923.5,798.0"/>
<polygon points="354.7,512.5 369.0,512.7 357.7,503.9"/>
<polygon points="643.7,513.1 658.0,512.7 646.3,504.4"/>
<polygon points="2795.5,368.5 2809.5,365.5 2796.5,359.5"/>
<polygon points="2456.2,502.6 2446.0,512.7 2460.2,510.8"/>
<polygon points="1393.6,519.5 1407.5,516.0 1394.3,510.4"/>
<polygon points="3277.9,349.7 3282.5,363.3 3287.1,349.7"/>
<polygon points="606.7,885.2 621.0,886.3 610.2,876.8"/>
<polygon points="1626.0,446.3 1640.0,443.0 1626.9,437.2"/>
<polygon points="1561.2,430.5 1549.0,438.0 1563.3,439.4"/>
<polygon points="1514.0,501.5 1505.0,512.7 1518.9,509.2"/>
<polygon points="650.7,513.4 665.0,512.7 653.2,504.6"/>
<polygon points="1888.8,805.0 1901.5,811.6 1895.3,798.6"/>
<polygon points="2263.1,658.7 2277.0,662.1 2268.0,651.0"/>
<polygon points="3369.6,501.2 3361.0,512.7 3374.8,508.7"/>
<polygon points="2427.2,498.4 2426.0,512.7 2435.6,502.1"/>
<polygon points="1566.6,505.5 1554.2,512.7 1568.4,514.4"/>
<polygon points="2092.8,723.0 2096.3,736.9 2101.8,723.6"/>
<polygon points="2447.3,501.8 2438.0,512.7 2452.0,509.6"/>
<polygon points="2747.0,443.0 2761.0,440.0 2748.0,434.0"/>
<polygon points="2685.7,424.9 2680.0,438.0 2692.5,431.0"/>
<polygon points="2791.9,432.1 2805.0,438.0 2798.1,425.4"/>
<polygon points="2507.6,512.1 2494.5,518.0 2508.5,521.2"/>
<polygon points="2839.5,425.0 2833.5,438.0 2846.1,431.2"/>
<polygon points="2507.6,512.6 2494.5,518.3 2508.5,521.6"/>
<polygon points="2666.3,878.2 2654.5,886.3 2668.8,886.9"/>
<polygon points="406.8,503.2 417.5,512.7 414.7,498.7"/>
<polygon points="1827.3,826.1 1841.0,822.0 1827.5,817.0"/>
<polygon points="643.8,514.7 658.0,512.7 645.5,505.7"/>
<polygon points="486.6,504.3 475.0,512.7 489.3,513.0"/>
<polygon points="706.6,503.4 717.5,512.7 714.4,498.7"/>
<polygon points="2219.7,600.8 2233.5,597.0 2220.2,591.7"/>
<polygon points="775.6,503.1 765.0,512.7 779.3,511.4"/>
<polygon points="1827.2,823.9 1841.0,820.0 1827.6,814.8"/>
<polygon points="810.5,507.0 798.0,514.0 812.2,516.0"/>
<polygon points="1410.7,514.2 1425.0,512.7 1412.7,505.3"/>
<polygon points="811.0,512.0 798.0,518.0 812.0,521.1"/>
<polygon points="1441.4,511.5 1455.7,512.7 1445.0,503.1"/>
<polygon points="524.7,514.4 511.5,520.0 525.4,523.5"/>
<polygon points="1482.2,499.1 1486.8,512.7 1491.3,499.1"/>
<polygon points="1863.8,809.8 1878.0,811.6 1867.7,801.6"/>
<polygon points="1539.9,503.9 1528.6,512.7 1542.9,512.5"/>
<polygon points="1578.9,513.7 1566.0,520.0 1580.1,522.7"/>
<polygon points="2344.7,514.0 2359.0,512.7 2346.8,505.2"/>
<polygon points="1579.1,515.3 1566.0,521.0 1579.9,524.3"/>
<polygon points="2390.6,506.5 2403.5,512.7 2396.9,500.0"/>
<polygon points="2253.3,656.5 2266.5,662.1 2259.4,649.7"/>
<polygon points="2097.6,722.6 2098.6,736.9 2106.4,724.8"/>
<polygon points="1579.3,516.6 1566.0,522.0 1579.9,525.7"/>
<polygon points="2663.4,499.1 2668.0,512.7 2672.6,499.1"/>
<polygon points="2769.3,723.1 2773.5,736.9 2778.4,723.4"/>
<polygon points="2009.4,815.9 1996.0,821.0 2009.8,825.0"/>
<polygon points="3177.9,947.4 3182.5,961.0 3187.1,947.4"/>
<polygon points="3325.2,501.0 3333.5,512.7 3333.9,498.4"/>
<polygon points="3048.6,577.3 3038.5,587.4 3052.7,585.4"/>
<polygon points="1393.7,521.7 1407.5,518.0 1394.2,512.7"/>
<polygon points="2326.8,526.4 2340.5,522.0 2327.0,517.3"/>
<polygon points="1393.5,522.3 1407.5,519.0 1394.4,513.2"/>
<polygon points="2326.9,527.4 2340.5,523.0 2326.9,518.3"/>
<polygon points="1393.4,519.0 1407.5,516.5 1394.7,510.0"/>
<polygon points="2326.9,526.4 2340.5,522.0 2326.9,517.3"/>
<polygon points="2326.8,525.3 2340.5,521.0 2327.0,516.2"/>
<polygon points="2326.7,524.1 2340.5,520.0 2327.1,515.0"/>
<polygon points="2326.6,522.6 2340.5,519.0 2327.2,513.6"/>
<polygon points="2326.5,521.1 2340.5,518.0 2327.5,512.0"/>
<polygon points="1579.4,517.9 1566.0,523.0 1579.8,527.0"/>
<polygon points="2507.7,513.3 2494.5,519.0 2508.4,522.4"/>
<polygon points="1579.5,519.1 1566.0,524.0 1579.7,528.2"/>
<polygon points="2507.7,514.0 2494.5,519.5 2508.4,523.0"/>
<polygon points="623.8,884.6 638.0,886.3 627.6,876.4"/>
<polygon points="673.2,872.1 675.0,886.3 682.1,873.8"/>
<polygon points="712.9,876.5 702.5,886.3 716.8,884.7"/>
<polygon points="2338.7,575.7 2330.5,587.4 2344.1,583.0"/>
<polygon points="2909.9,592.9 2924.0,590.0 2911.1,583.8"/>
<polygon points="2103.8,722.8 2101.0,736.9 2111.7,727.3"/>
<polygon points="2008.7,806.4 1996.0,813.0 2010.1,815.4"/>
<polygon points="2563.7,728.7 2575.5,736.9 2571.0,723.2"/>
<polygon points="3154.1,955.9 3167.5,961.0 3159.9,948.9"/>
<polygon points="3075.7,579.9 3063.5,587.4 3077.8,588.8"/>
<polygon points="2816.0,727.6 2805.0,736.9 2819.3,736.1"/>
<polygon points="2298.4,648.3 2302.0,662.1 2307.5,648.9"/>
<polygon points="2563.5,877.8 2575.0,886.3 2570.9,872.5"/>
<polygon points="2657.9,876.9 2647.0,886.3 2661.3,885.3"/>
<polygon points="2140.7,727.9 2129.5,736.9 2143.8,736.5"/>
<polygon points="2008.6,806.2 1996.0,813.0 2010.2,815.2"/>
<polygon points="2522.7,737.7 2537.0,736.9 2525.0,729.0"/>
<polygon points="2675.3,739.8 2689.5,737.5 2676.8,730.8"/>
<polygon points="3197.2,947.1 3193.5,961.0 3204.8,952.1"/>
<polygon points="1963.6,801.9 1953.0,811.6 1967.3,810.2"/>
<polygon points="2580.4,872.7 2585.0,886.3 2589.6,872.7"/>
<polygon points="568.9,892.3 583.0,889.5 570.1,883.2"/>
<polygon points="771.3,887.7 758.0,893.0 771.8,896.7"/>
<polygon points="2502.0,893.5 2516.0,890.5 2503.0,884.5"/>
<polygon points="477.7,952.6 466.0,961.0 480.3,961.3"/>
<polygon points="594.2,949.2 586.0,961.0 599.6,956.5"/>
<polygon points="666.0,947.4 670.5,961.0 675.0,947.4"/>
<polygon points="740.0,956.3 753.5,961.0 745.5,949.1"/>
<polygon points="819.2,960.3 833.5,961.0 822.5,951.8"/>
<polygon points="3133.8,976.1 3147.5,972.0 3134.0,967.0"/>
<polygon points="906.8,982.9 892.8,985.6 905.6,991.9"/>
</g>
<rect x="3582.5" y="5.8" width="218.9" height="84.2" fill="#bfbfbf" stroke="#000000" stroke-width="1.33"/>
<rect x="3517.5" y="139.2" width="130.5" height="24.9" fill="#ffffff" stroke="#000000" stroke-width="1.33"/>
<rect x="3729.0" y="139.2" width="139.2" height="24.9" fill="#ffffff" stroke="#000000" stroke-width="1.33"/>
<rect x="1952.0" y="213.9" width="72.0" height="24.9" fill="#ffffff" stroke="#000000" stroke-width="1.33"/>
<rect x="3620.5" y="213.9" width="159.0" height="24.9" fill="#ffffff" stroke="#000000" stroke-width="1.33"/>
<rect x="1012.0" y="288.6" width="88.0" height="24.9" fill="#ffffff" stroke="#000000" stroke-width="1.33"/>
<rect x="1859.0" y="288.6" width="146.5" height="24.9" fill="#ffffff" stroke="#ff0000" stroke-width="1.33"/>
<rect x="3204.5" y="288.6" width="156.5" height="24.9" fill="#ffffff" stroke="#ff0000" stroke-width="1.33"/>
<rect x="830.5" y="363.3" width="107.0" height="24.9" fill="#ffffff" stroke="#000000" stroke-width="1.33"/>
<rect x="1740.5" y="363.3" width="153.5" height="24.9" fill="#ffffff" stroke="#000000" stroke-width="1.33"/>
<rect x="2136.5" y="363.3" width="152.0" height="24.9" fill="#ffffff" stroke="#ff0000" stroke-width="1.33"/>
<rect x="2688.5" y="363.3" width="97.0" height="24.9" fill="#ffffff" stroke="#000000" stroke-width="1.33"/>
<rect x="2809.5" y="363.3" width="167.0" height="24.9" fill="#ffffff" stroke="#000000" stroke-width="1.33"/>
<rect x="3220.5" y="363.3" width="124.0" height="24.9" fill="#ffffff" stroke="#000000" stroke-width="1.33"/>
<rect x="293.0" y="438.0" width="177.0" height="24.9" fill="#ffffff" stroke="#ff0000" stroke-width="1.33"/>
<rect x="597.0" y="438.0" width="158.0" height="24.9" fill="#ffffff" stroke="#ff0000" stroke-width="1.33"/>
<rect x="831.0" y="438.0" width="159.5" height="24.9" fill="#ffffff" stroke="#ff0000" stroke-width="1.33"/>
<rect x="1065.5" y="438.0" width="143.5" height="24.9" fill="#ffffff" stroke="#000000" stroke-width="1.33"/>
<rect x="1233.5" y="438.0" width="152.0" height="24.9" fill="#ffffff" stroke="#000000" stroke-width="1.33"/>
<rect x="1409.5" y="438.0" width="154.5" height="24.9" fill="#ffffff" stroke="#000000" stroke-width="1.33"/>
<rect x="1640.0" y="438.0" width="139.5" height="24.9" fill="#ffffff" stroke="#ff0000" stroke-width="1.33"/>
<rect x="2006.5" y="438.0" width="168.0" height="24.9" fill="#ffffff" stroke="#000000" stroke-width="1.33"/>
<rect x="2249.0" y="438.0" width="173.5" height="24.9" fill="#ffffff" stroke="#ff0000" stroke-width="1.33"/>
<rect x="2598.5" y="438.0" width="139.0" height="24.9" fill="#ffffff" stroke="#000000" stroke-width="1.33"/>
<rect x="2761.0" y="438.0" width="115.0" height="24.9" fill="#ffffff" stroke="#bfbfbf" stroke-width="1.33"/>
<rect x="3052.0" y="438.0" width="159.5" height="24.9" fill="#ffffff" stroke="#000000" stroke-width="1.33"/>
<rect x="3235.5" y="438.0" width="158.5" height="24.9" fill="#ffffff" stroke="#000000" stroke-width="1.33"/>
<rect x="344.5" y="512.7" width="167.0" height="24.9" fill="#ffffff" stroke="#000000" stroke-width="1.33"/>
<rect x="658.0" y="512.7" width="140.0" height="24.9" fill="#ffffff" stroke="#000000" stroke-width="1.33"/>
<rect x="1407.5" y="512.7" width="158.5" height="24.9" fill="#ffffff" stroke="#000000" stroke-width="1.33"/>
<rect x="2340.5" y="512.7" width="154.0" height="24.9" fill="#ffffff" stroke="#000000" stroke-width="1.33"/>
<rect x="2602.5" y="512.7" width="131.0" height="24.9" fill="#ffffff" stroke="#ff0000" stroke-width="1.33"/>
<rect x="3271.5" y="512.7" width="137.5" height="24.9" fill="#ffffff" stroke="#000000" stroke-width="1.33"/>
<rect x="2233.5" y="587.4" width="146.5" height="24.9" fill="#ffffff" stroke="#000000" stroke-width="1.33"/>
<rect x="2924.0" y="587.4" width="163.0" height="24.9" fill="#ffffff" stroke="#000000" stroke-width="1.33"/>
<rect x="2222.5" y="662.1" width="157.5" height="24.9" fill="#ffffff" stroke="#ff0000" stroke-width="1.33"/>
<rect x="3309.0" y="662.1" width="147.0" height="24.9" fill="#ffffff" stroke="#000000" stroke-width="1.33"/>
<rect x="2005.5" y="736.9" width="178.5" height="24.9" fill="#ffffff" stroke="#000000" stroke-width="1.33"/>
<rect x="2505.5" y="736.9" width="159.5" height="24.9" fill="#ffffff" stroke="#000000" stroke-width="1.33"/>
<rect x="2689.5" y="736.9" width="159.5" height="24.9" fill="#ffffff" stroke="#ff0000" stroke-width="1.33"/>
<rect x="44.5" y="811.6" width="116.5" height="24.9" fill="#ffffff" stroke="#000000" stroke-width="1.33"/>
<rect x="1841.0" y="811.6" width="155.0" height="24.9" fill="#ffffff" stroke="#ff0000" stroke-width="1.33"/>
<rect x="583.0" y="886.3" width="175.0" height="24.9" fill="#ffffff" stroke="#000000" stroke-width="1.33"/>
<rect x="2516.0" y="886.3" width="138.5" height="24.9" fill="#ffffff" stroke="#bfbfbf" stroke-width="1.33"/>
<rect x="341.0" y="961.0" width="166.5" height="24.9" fill="#ffffff" stroke="#bfbfbf" stroke-width="1.33"/>
<rect x="530.5" y="961.0" width="75.0" height="24.9" fill="#ffffff" stroke="#bfbfbf" stroke-width="1.33"/>
<rect x="629.5" y="961.0" width="82.5" height="24.9" fill="#ffffff" stroke="#bfbfbf" stroke-width="1.33"/>
<rect x="737.0" y="961.0" width="70.5" height="24.9" fill="#ffffff" stroke="#000000" stroke-width="1.33"/>
<rect x="831.0" y="961.0" width="71.5" height="24.9" fill="#ffffff" stroke="#000000" stroke-width="1.33"/>
<rect x="3147.5" y="961.0" width="70.5" height="24.9" fill="#ffffff" stroke="#bfbfbf" stroke-width="1.33"/>
<g style="filter:grayscale(1)">
<text x="3592.9" y="22.6" textLength="152.0" lengthAdjust="spacing">/mnt/data0/chrisj/rtems</text>
<text x="3592.9" y="37.3" textLength="175.0" lengthAdjust="spacing">/releases/rtems-release.git</text>
<text x="3592.9" y="51.9" textLength="196.0" lengthAdjust="spacing">/4.11.3/ws-rtems/rtems-4.11.3</text>
<text x="3592.9" y="66.6" textLength="187.0" lengthAdjust="spacing">/cpukit/libdrvmgr/drvmgr_for</text>
<text x="3691.9" y="81.3" text-anchor="middle" textLength="107.0" lengthAdjust="spacing">_each_list_dev.c</text>
<text x="3581.8" y="154.9" text-anchor="middle" textLength="110.0" lengthAdjust="spacing">drvmgr/drvmgr.h</text>
<text x="3797.7" y="154.9" text-anchor="middle" textLength="116.0" lengthAdjust="spacing">drvmgr_internal.h</text>
<text x="1987.1" y="229.6" text-anchor="middle" textLength="50.0" lengthAdjust="spacing">rtems.h</text>
<text x="3699.1" y="229.6" text-anchor="middle" textLength="137.0" lengthAdjust="spacing">drvmgr/drvmgr_list.h</text>
<text x="1055.1" y="304.3" text-anchor="middle" textLength="66.0" lengthAdjust="spacing">rtems/io.h</text>
<text x="1931.3" y="304.3" text-anchor="middle" textLength="124.0" lengthAdjust="spacing">rtems/rtems/sem.h</text>
<text x="3281.8" y="304.3" text-anchor="middle" textLength="134.0" lengthAdjust="spacing">rtems/rtems/cache.h</text>
<text x="883.1" y="379.0" text-anchor="middle" textLength="84.0" lengthAdjust="spacing">rtems/fatal.h</text>
<text x="1816.3" y="379.0" text-anchor="middle" textLength="131.0" lengthAdjust="spacing">rtems/rtems/tasks.h</text>
<text x="2211.6" y="379.0" text-anchor="middle" textLength="130.0" lengthAdjust="spacing">rtems/rtems/clock.h</text>
<text x="2736.1" y="379.0" text-anchor="middle" textLength="75.0" lengthAdjust="spacing">rtems/init.h</text>
<text x="2892.1" y="379.0" text-anchor="middle" textLength="145.0" lengthAdjust="spacing">rtems/rtems/support.h</text>
<text x="3281.6" y="379.0" text-anchor="middle" textLength="102.0" lengthAdjust="spacing">rtems/system.h</text>
<text x="380.6" y="453.8" text-anchor="middle" textLength="155.0" lengthAdjust="spacing">rtems/rtems/message.h</text>
<text x="675.1" y="453.8" text-anchor="middle" textLength="137.0" lengthAdjust="spacing">rtems/rtems/region.h</text>
<text x="909.9" y="453.8" text-anchor="middle" textLength="139.0" lengthAdjust="spacing">rtems/rtems/barrier.h</text>
<text x="1136.3" y="453.8" text-anchor="middle" textLength="122.0" lengthAdjust="spacing">rtems/rtems/part.h</text>
<text x="1308.6" y="453.8" text-anchor="middle" textLength="131.0" lengthAdjust="spacing">rtems/rtems/timer.h</text>
<text x="1485.8" y="453.8" text-anchor="middle" textLength="133.0" lengthAdjust="spacing">rtems/rtems/event.h</text>
<text x="1708.8" y="453.8" text-anchor="middle" textLength="118.0" lengthAdjust="spacing">rtems/extension.h</text>
<text x="2089.6" y="453.8" text-anchor="middle" textLength="146.0" lengthAdjust="spacing">rtems/rtems/dpmem.h</text>
<text x="2334.8" y="453.8" text-anchor="middle" textLength="151.0" lengthAdjust="spacing">rtems/rtems/ratemon.h</text>
<text x="2667.1" y="453.8" text-anchor="middle" textLength="118.0" lengthAdjust="spacing">rtems/rtems/intr.h</text>
<text x="2817.6" y="453.8" text-anchor="middle" textLength="94.0" lengthAdjust="spacing">rtems/config.h</text>
<text x="3130.8" y="453.8" text-anchor="middle" textLength="136.0" lengthAdjust="spacing">rtems/rtems/object.h</text>
<text x="3313.8" y="453.8" text-anchor="middle" textLength="135.0" lengthAdjust="spacing">rtems/rtems/signal.h</text>
<text x="427.1" y="528.5" text-anchor="middle" textLength="144.0" lengthAdjust="spacing">rtems/rtems/options.h</text>
<text x="727.1" y="528.5" text-anchor="middle" textLength="119.0" lengthAdjust="spacing">rtems/rtems/attr.h</text>
<text x="1485.8" y="528.5" text-anchor="middle" textLength="136.0" lengthAdjust="spacing">rtems/rtems/status.h</text>
<text x="2416.6" y="528.5" text-anchor="middle" textLength="132.0" lengthAdjust="spacing">rtems/rtems/types.h</text>
<text x="2667.1" y="528.5" text-anchor="middle" textLength="109.0" lengthAdjust="spacing">rtems/score/isr.h</text>
<text x="3339.3" y="528.5" text-anchor="middle" textLength="116.0" lengthAdjust="spacing">rtems/rtems/asr.h</text>
<text x="2305.8" y="603.2" text-anchor="middle" textLength="125.0" lengthAdjust="spacing">rtems/score/heap.h</text>
<text x="3004.6" y="603.2" text-anchor="middle" textLength="140.0" lengthAdjust="spacing">rtems/rtems/modes.h</text>
<text x="2300.3" y="677.9" text-anchor="middle" textLength="135.0" lengthAdjust="spacing">rtems/score/thread.h</text>
<text x="3381.6" y="677.9" text-anchor="middle" textLength="124.0" lengthAdjust="spacing">rtems/rtems/smp.h</text>
<text x="2093.8" y="752.6" text-anchor="middle" textLength="156.0" lengthAdjust="spacing">rtems/score/watchdog.h</text>
<text x="2584.3" y="752.6" text-anchor="middle" textLength="140.0" lengthAdjust="spacing">rtems/score/priority.h</text>
<text x="2768.3" y="752.6" text-anchor="middle" textLength="136.0" lengthAdjust="spacing">rtems/score/isrlock.h</text>
<text x="101.8" y="827.3" text-anchor="middle" textLength="94.0" lengthAdjust="spacing">rtems/debug.h</text>
<text x="1917.6" y="827.3" text-anchor="middle" textLength="133.0" lengthAdjust="spacing">rtems/score/object.h</text>
<text x="669.6" y="902.0" text-anchor="middle" textLength="152.0" lengthAdjust="spacing">rtems/score/basedefs.h</text>
<text x="2584.3" y="902.0" text-anchor="middle" textLength="116.0" lengthAdjust="spacing">rtems/score/cpu.h</text>
<text x="423.4" y="976.8" text-anchor="middle" textLength="144.0" lengthAdjust="spacing">rtems/score/cpuopts.h</text>
<text x="567.1" y="976.8" text-anchor="middle" textLength="53.0" lengthAdjust="spacing">stddef.h</text>
<text x="669.9" y="976.8" text-anchor="middle" textLength="60.0" lengthAdjust="spacing">stdbool.h</text>
<text x="771.4" y="976.8" text-anchor="middle" textLength="49.0" lengthAdjust="spacing">limits.h</text>
<text x="865.9" y="976.8" text-anchor="middle" textLength="49.0" lengthAdjust="spacing">string.h</text>
<text x="3181.8" y="976.8" text-anchor="middle" textLength="49.0" lengthAdjust="spacing">stdint.h</text>
</g>
</svg></body></html>
